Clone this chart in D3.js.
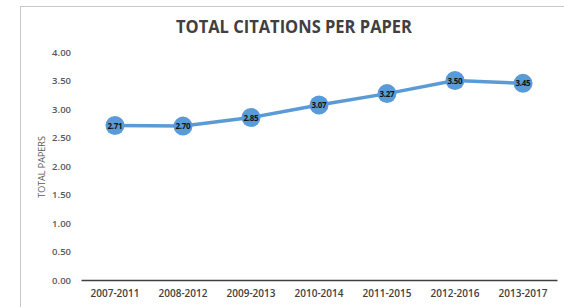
<!DOCTYPE html>
<html>
<head>
<meta charset="utf-8">
<script src="https://cdn.jsdelivr.net/npm/d3@7"></script>
<style>
  body { margin: 0; background: #fff; }
  svg { display: block; font-family: "Open Sans", "Liberation Sans", sans-serif; }
</style>
</head>
<body>
<div class="graphic"></div>
<script>
const width = 564;
const height = 307;

const periods = ["2007-2011", "2008-2012", "2009-2013", "2010-2014", "2011-2015", "2012-2016", "2013-2017"];
const citations = [2.71, 2.70, 2.85, 3.07, 3.27, 3.50, 3.45];
const yTicks = [0, 0.5, 1, 1.5, 2, 2.5, 3, 3.5, 4];

const lineColor = "#5b9bd5";
const markerR = 9.5;

var svg = d3.select(".graphic")
  .append("svg")
  .attr("width", width)
  .attr("height", height);

// chart frame (cut off at right and bottom like the screenshot)
svg.append("rect")
  .attr("x", 20.5)
  .attr("y", 6.5)
  .attr("width", 600)
  .attr("height", 400)
  .attr("fill", "#fff")
  .attr("stroke", "#c8c8c8")
  .attr("stroke-width", 1);

var x = d3.scaleBand()
  .domain(periods)
  .range([81, 557]);

var y = d3.scaleLinear()
  .domain([0, 4])
  .range([280, 52]);

// title
svg.append("text")
  .attr("x", 294)
  .attr("y", 33)
  .attr("text-anchor", "middle")
  .attr("font-size", 18)
  .attr("font-weight", "bold")
  .attr("fill", "#404040")
  .attr("textLength", 236)
  .attr("lengthAdjust", "spacingAndGlyphs")
  .text("TOTAL CITATIONS PER PAPER");

// y axis labels, no line
var yAxis = svg.append("g")
  .attr("transform", "translate(71,0)")
  .call(d3.axisLeft(y).tickValues(yTicks).tickSize(0).tickPadding(0).tickFormat(d3.format(".2f")));
yAxis.select(".domain").remove();
yAxis.selectAll("text")
  .attr("font-family", "'Open Sans', sans-serif")
  .attr("font-size", 9.5)
  .attr("font-weight", 600)
  .attr("fill", "#595959");

svg.append("text")
  .attr("transform", "translate(45,167) rotate(-90)")
  .attr("text-anchor", "middle")
  .attr("font-size", 9)
  .attr("fill", "#595959")
  .text("TOTAL PAPERS");

// x axis
var xAxis = svg.append("g")
  .attr("transform", "translate(0," + y(0) + ")")
  .call(d3.axisBottom(x).tickSize(0).tickPadding(10));
xAxis.select(".domain")
  .attr("stroke", "#404040")
  .attr("stroke-width", 1.5);
xAxis.selectAll("text")
  .attr("font-family", "'Open Sans', sans-serif")
  .attr("font-size", 10)
  .attr("font-weight", 600)
  .attr("fill", "#404040");

var cx = (d, i) => x(periods[i]) + x.bandwidth() / 2;

svg.append("path")
  .datum(citations)
  .attr("fill", "none")
  .attr("stroke", lineColor)
  .attr("stroke-width", 3.5)
  .attr("stroke-linejoin", "round")
  .attr("d", d3.line().x(cx).y(d => y(d)));

svg.selectAll("circle.pt")
  .data(citations)
  .enter()
  .append("circle")
  .attr("class", "pt")
  .attr("cx", cx)
  .attr("cy", d => y(d))
  .attr("r", markerR)
  .attr("fill", lineColor);

svg.selectAll("text.lbl")
  .data(citations)
  .enter()
  .append("text")
  .attr("class", "lbl")
  .attr("x", cx)
  .attr("y", d => y(d) + 3)
  .attr("text-anchor", "middle")
  .attr("font-size", 8)
  .attr("font-weight", "bold")
  .attr("letter-spacing", -0.3)
  .attr("fill", "#111")
  .text(d => d.toFixed(2));
</script>
</body>
</html>
